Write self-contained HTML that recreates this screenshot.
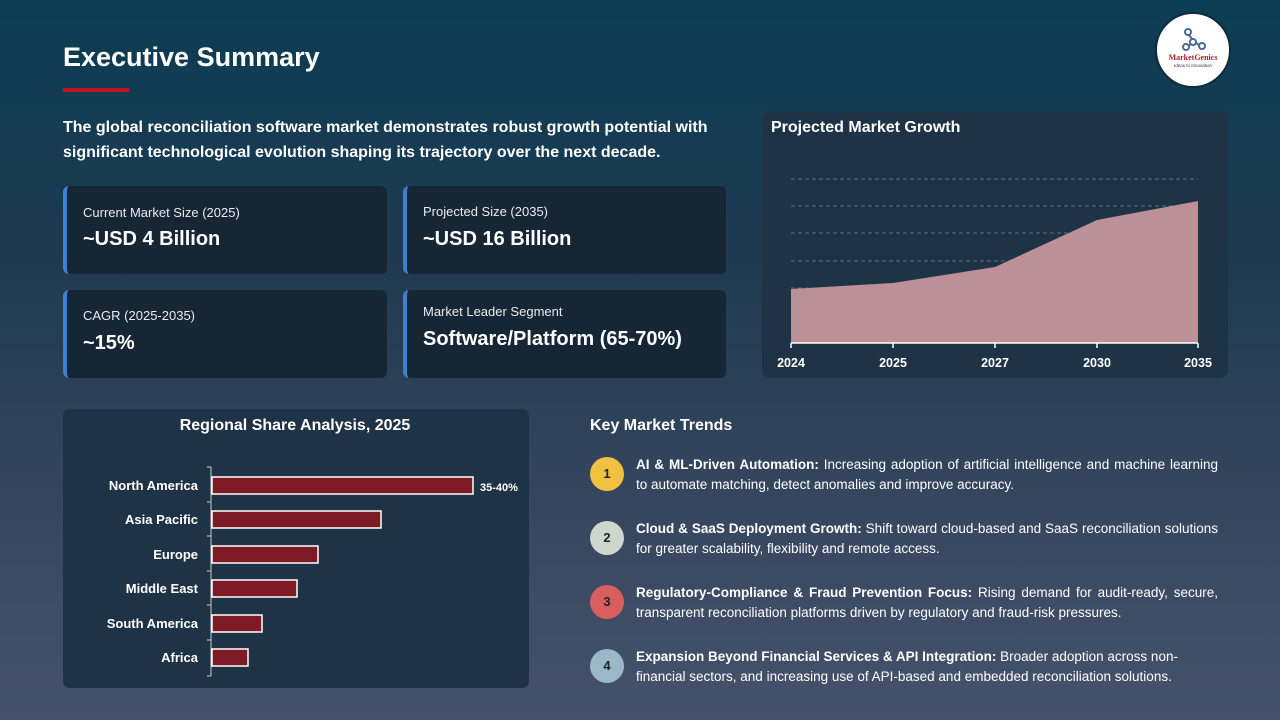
<!DOCTYPE html>
<html><head><meta charset="utf-8"><style>
*{margin:0;padding:0;box-sizing:border-box}
body{width:1280px;height:720px;overflow:hidden;font-family:"Liberation Sans","DejaVu Sans",sans-serif;color:#fff;background:linear-gradient(180deg,#0c3d54 0%,#1e3a50 35%,#36465e 70%,#46526b 100%);position:relative}
.abs{position:absolute}
h1{position:absolute;left:63px;top:42px;font-size:27px;font-weight:bold}
.bar{position:absolute;left:63px;top:88px;width:66px;height:4px;background:#c0141e}
.intro{position:absolute;left:63px;top:115px;width:680px;font-size:16px;font-weight:bold;line-height:25px}
.card{position:absolute;background:#172634;border-left:4px solid #3f7fd0;border-radius:6px}
.card .l{position:absolute;left:16px;font-size:13px;color:#e8ecf0}
.card .v{position:absolute;left:16px;font-size:20px;font-weight:bold}
.trend{position:absolute;left:590px;width:628px;font-size:13.5px;line-height:20px;text-align:justify;padding-left:46px}
.num{position:absolute;left:0;top:0;width:34px;height:34px;border-radius:50%;color:#222;font-size:13px;font-weight:bold;text-align:center;line-height:34px}
</style></head><body>
<h1>Executive Summary</h1>
<div class="bar"></div>
<div class="abs" style="left:1155px;top:12px;width:76px;height:76px;border-radius:50%;background:#fff;border:2px solid #0a2c3c">
<svg width="76" height="76" viewBox="0 0 76 76" class="abs" style="left:-2px;top:-2px"><g stroke="#4a6a9a" stroke-width="2" fill="none"><circle cx="33" cy="20" r="3"/><circle cx="38" cy="30" r="3"/><circle cx="31" cy="35" r="3"/><circle cx="47" cy="34" r="3"/><line x1="34" y1="23" x2="37" y2="27"/><line x1="36" y1="32" x2="33" y2="34"/><line x1="41" y1="31" x2="44" y2="33"/></g>
<text x="38" y="48" font-size="8" fill="#b02030" text-anchor="middle" font-family="Liberation Serif" font-weight="bold">MarketGenics</text>
<text x="38" y="55" font-size="4.5" fill="#334" text-anchor="middle">Ideas to Innovation</text></svg></div>
<div class="intro">The global reconciliation software market demonstrates robust growth potential with significant technological evolution shaping its trajectory over the next decade.</div>

<div class="card" style="left:63px;top:186px;width:324px;height:88px"><div class="l" style="top:19px">Current Market Size (2025)</div><div class="v" style="top:42px">~USD 4 Billion</div></div>
<div class="card" style="left:403px;top:186px;width:323px;height:88px"><div class="l" style="top:18px">Projected Size (2035)</div><div class="v" style="top:42px">~USD 16 Billion</div></div>
<div class="card" style="left:63px;top:290px;width:324px;height:88px"><div class="l" style="top:18px">CAGR (2025-2035)</div><div class="v" style="top:42px">~15%</div></div>
<div class="card" style="left:403px;top:290px;width:323px;height:88px"><div class="l" style="top:14px">Market Leader Segment</div><div class="v" style="top:38px">Software/Platform (65-70%)</div></div>

<svg class="abs" style="left:0;top:0" width="1280" height="720">
<rect x="762" y="111" width="466" height="267" rx="8" fill="#1f3346"/>
<text x="771" y="132" font-size="16" font-weight="bold" fill="#fff">Projected Market Growth</text>
<g stroke="#5d6e80" stroke-dasharray="4,3" stroke-width="1"><line x1="791" y1="179" x2="1198" y2="179"/><line x1="791" y1="206" x2="1198" y2="206"/><line x1="791" y1="233" x2="1198" y2="233"/><line x1="791" y1="261" x2="1198" y2="261"/><line x1="791" y1="288" x2="1198" y2="288"/><line x1="791" y1="316" x2="1198" y2="316"/></g>
<polygon points="791,289 893,283 995,267 1097,220 1198,201 1198,343 791,343" fill="#bb9096"/>
<g stroke="#fff" stroke-width="1.5"><line x1="791" y1="343" x2="1198" y2="343"/><line x1="791" y1="343" x2="791" y2="348"/><line x1="893" y1="343" x2="893" y2="348"/><line x1="995" y1="343" x2="995" y2="348"/><line x1="1097" y1="343" x2="1097" y2="348"/><line x1="1198" y1="343" x2="1198" y2="348"/></g>
<g font-size="12.5" font-weight="bold" fill="#fff" text-anchor="middle"><text x="791" y="367">2024</text><text x="893" y="367">2025</text><text x="995" y="367">2027</text><text x="1097" y="367">2030</text><text x="1198" y="367">2035</text></g>

<rect x="63" y="409" width="466" height="279" rx="7" fill="#1f3346"/>
<text x="295" y="430" font-size="16" font-weight="bold" fill="#fff" text-anchor="middle">Regional Share Analysis, 2025</text>
<line x1="211" y1="467" x2="211" y2="676" stroke="#ccc" stroke-width="1"/>
<g stroke="#ccc"><line x1="207" y1="467" x2="211" y2="467"/><line x1="207" y1="502" x2="211" y2="502"/><line x1="207" y1="536" x2="211" y2="536"/><line x1="207" y1="571" x2="211" y2="571"/><line x1="207" y1="605" x2="211" y2="605"/><line x1="207" y1="640" x2="211" y2="640"/><line x1="207" y1="676" x2="211" y2="676"/></g>
<g fill="#7c1a26" stroke="#fff" stroke-width="1.5">
<rect x="212" y="477" width="261" height="17"/><rect x="212" y="511" width="169" height="17"/><rect x="212" y="546" width="106" height="17"/><rect x="212" y="580" width="85" height="17"/><rect x="212" y="615" width="50" height="17"/><rect x="212" y="649" width="36" height="17"/></g>
<g font-size="13" font-weight="bold" fill="#fff" text-anchor="end"><text x="198" y="490">North America</text><text x="198" y="524">Asia Pacific</text><text x="198" y="559">Europe</text><text x="198" y="593">Middle East</text><text x="198" y="628">South America</text><text x="198" y="662">Africa</text></g>
<text x="480" y="491" font-size="11" font-weight="bold" fill="#fff">35-40%</text>
<text x="590" y="430" font-size="16" font-weight="bold" fill="#fff">Key Market Trends</text>
</svg>

<div class="trend" style="top:455px"><div class="num" style="top:2px;background:#f0c040">1</div><b>AI &amp; ML-Driven Automation:</b> Increasing adoption of artificial intelligence and machine learning to automate matching, detect anomalies and improve accuracy.</div>
<div class="trend" style="top:519px"><div class="num" style="top:2px;background:#cfd6cc">2</div><b>Cloud &amp; SaaS Deployment Growth:</b> Shift toward cloud-based and SaaS reconciliation solutions for greater scalability, flexibility and remote access.</div>
<div class="trend" style="top:583px"><div class="num" style="top:2px;background:#d95f5f">3</div><b>Regulatory-Compliance &amp; Fraud Prevention Focus:</b> Rising demand for audit-ready, secure, transparent reconciliation platforms driven by regulatory and fraud-risk pressures.</div>
<div class="trend" style="top:647px;text-align:left"><div class="num" style="top:2px;background:#9bb8c8">4</div><b>Expansion Beyond Financial Services &amp; API Integration:</b> Broader adoption across non-financial sectors, and increasing use of API-based and embedded reconciliation solutions.</div>
</body></html>
